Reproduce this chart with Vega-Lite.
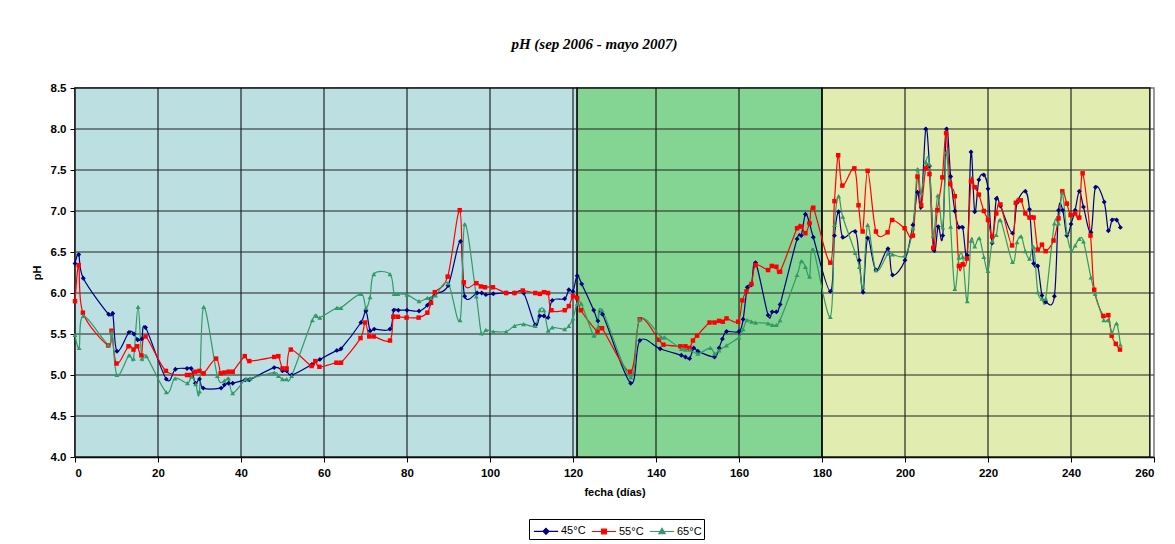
{
  "$schema": "https://vega.github.io/schema/vega-lite/v6.json",
  "width": 1079,
  "height": 369,
  "autosize": {"type": "none"},
  "padding": {"left": 75, "top": 88, "right": 21, "bottom": 87},
  "background": "white",
  "title": {"text": "pH (sep 2006 - mayo 2007)", "font": "Liberation Serif", "fontStyle": "italic", "fontWeight": "bold", "fontSize": 15, "anchor": "middle", "offset": 30, "dx": -20, "color": "black"},
  "config": {
    "view": {"stroke": "#777", "strokeWidth": 1.5},
    "axis": {"grid": false, "labelFont": "Liberation Sans", "labelFontWeight": "bold", "labelFontSize": 11.5, "labelColor": "black", "titleFont": "Liberation Sans", "titleFontWeight": "bold", "titleFontSize": 11, "titleColor": "black", "domainColor": "black", "domainWidth": 1.5, "tickColor": "black", "tickSize": 5}
  },
  "datasets": {
    "regions": [{"a": 0, "b": 121, "r": "r1"}, {"a": 121, "b": 180, "r": "r2"}, {"a": 180, "b": 259, "r": "r3"}],
    "xg": [{"g": 20}, {"g": 40}, {"g": 60}, {"g": 80}, {"g": 100}, {"g": 120}, {"g": 140}, {"g": 160}, {"g": 180}, {"g": 200}, {"g": 220}, {"g": 240}],
    "yg": [{"g": 4.5}, {"g": 5.0}, {"g": 5.5}, {"g": 6.0}, {"g": 6.5}, {"g": 7.0}, {"g": 7.5}, {"g": 8.0}],
    "ph": [
      {"d":0,"pH":6.36,"s":"45°C"},{"d":0.9,"pH":6.47,"s":"45°C"},{"d":2,"pH":6.18,"s":"45°C"},{"d":8.1,"pH":5.74,"s":"45°C"},{"d":9.1,"pH":5.75,"s":"45°C"},{"d":10.1,"pH":5.29,"s":"45°C"},{"d":13,"pH":5.52,"s":"45°C"},{"d":14.2,"pH":5.5,"s":"45°C"},{"d":15.1,"pH":5.43,"s":"45°C"},{"d":16.1,"pH":5.44,"s":"45°C"},{"d":17,"pH":5.58,"s":"45°C"},{"d":22,"pH":4.95,"s":"45°C"},{"d":24.2,"pH":5.07,"s":"45°C"},{"d":27,"pH":5.08,"s":"45°C"},{"d":28,"pH":5.08,"s":"45°C"},{"d":29,"pH":4.9,"s":"45°C"},{"d":30,"pH":4.95,"s":"45°C"},{"d":30.9,"pH":4.84,"s":"45°C"},{"d":35.2,"pH":4.84,"s":"45°C"},{"d":36,"pH":4.88,"s":"45°C"},{"d":37,"pH":4.9,"s":"45°C"},{"d":38,"pH":4.9,"s":"45°C"},{"d":41,"pH":4.94,"s":"45°C"},{"d":42,"pH":4.94,"s":"45°C"},{"d":48,"pH":5.09,"s":"45°C"},{"d":50,"pH":5.05,"s":"45°C"},{"d":51,"pH":5.05,"s":"45°C"},{"d":52.2,"pH":5.0,"s":"45°C"},{"d":57.1,"pH":5.13,"s":"45°C"},{"d":59,"pH":5.19,"s":"45°C"},{"d":63.1,"pH":5.3,"s":"45°C"},{"d":64.1,"pH":5.32,"s":"45°C"},{"d":68.9,"pH":5.64,"s":"45°C"},{"d":70.1,"pH":5.78,"s":"45°C"},{"d":71.1,"pH":5.54,"s":"45°C"},{"d":72.1,"pH":5.56,"s":"45°C"},{"d":75.9,"pH":5.56,"s":"45°C"},{"d":76.8,"pH":5.79,"s":"45°C"},{"d":77.9,"pH":5.79,"s":"45°C"},{"d":80,"pH":5.79,"s":"45°C"},{"d":82.9,"pH":5.78,"s":"45°C"},{"d":84.9,"pH":5.85,"s":"45°C"},{"d":85.8,"pH":5.93,"s":"45°C"},{"d":86.8,"pH":5.99,"s":"45°C"},{"d":89.9,"pH":6.09,"s":"45°C"},{"d":92.9,"pH":6.63,"s":"45°C"},{"d":93.9,"pH":5.96,"s":"45°C"},{"d":96.9,"pH":6.0,"s":"45°C"},{"d":98,"pH":6.0,"s":"45°C"},{"d":99,"pH":5.98,"s":"45°C"},{"d":100.8,"pH":5.99,"s":"45°C"},{"d":103.9,"pH":6.0,"s":"45°C"},{"d":105.9,"pH":6.0,"s":"45°C"},{"d":108.1,"pH":6.0,"s":"45°C"},{"d":110.9,"pH":5.61,"s":"45°C"},{"d":112,"pH":5.72,"s":"45°C"},{"d":113,"pH":5.72,"s":"45°C"},{"d":114,"pH":5.7,"s":"45°C"},{"d":115,"pH":5.91,"s":"45°C"},{"d":118,"pH":5.93,"s":"45°C"},{"d":119,"pH":6.04,"s":"45°C"},{"d":120,"pH":6.02,"s":"45°C"},{"d":121,"pH":6.21,"s":"45°C"},{"d":122.1,"pH":6.11,"s":"45°C"},{"d":125,"pH":5.79,"s":"45°C"},{"d":126,"pH":5.66,"s":"45°C"},{"d":127.1,"pH":5.74,"s":"45°C"},{"d":133.9,"pH":4.9,"s":"45°C"},{"d":136.1,"pH":5.42,"s":"45°C"},{"d":141,"pH":5.32,"s":"45°C"},{"d":146.1,"pH":5.24,"s":"45°C"},{"d":147.1,"pH":5.22,"s":"45°C"},{"d":148.1,"pH":5.2,"s":"45°C"},{"d":149.1,"pH":5.33,"s":"45°C"},{"d":150.1,"pH":5.29,"s":"45°C"},{"d":154.1,"pH":5.22,"s":"45°C"},{"d":155.2,"pH":5.33,"s":"45°C"},{"d":156,"pH":5.44,"s":"45°C"},{"d":157,"pH":5.53,"s":"45°C"},{"d":160,"pH":5.53,"s":"45°C"},{"d":161,"pH":5.68,"s":"45°C"},{"d":162,"pH":6.07,"s":"45°C"},{"d":163,"pH":6.1,"s":"45°C"},{"d":164,"pH":6.37,"s":"45°C"},{"d":167,"pH":5.73,"s":"45°C"},{"d":168,"pH":5.77,"s":"45°C"},{"d":169,"pH":5.77,"s":"45°C"},{"d":169.9,"pH":5.86,"s":"45°C"},{"d":174,"pH":6.66,"s":"45°C"},{"d":175,"pH":6.7,"s":"45°C"},{"d":176,"pH":6.96,"s":"45°C"},{"d":177,"pH":6.85,"s":"45°C"},{"d":177.9,"pH":6.68,"s":"45°C"},{"d":182,"pH":6.02,"s":"45°C"},{"d":183,"pH":6.7,"s":"45°C"},{"d":184,"pH":6.99,"s":"45°C"},{"d":185,"pH":6.68,"s":"45°C"},{"d":188,"pH":6.75,"s":"45°C"},{"d":189,"pH":6.4,"s":"45°C"},{"d":189.9,"pH":6.01,"s":"45°C"},{"d":191,"pH":6.67,"s":"45°C"},{"d":193,"pH":6.28,"s":"45°C"},{"d":195.9,"pH":6.54,"s":"45°C"},{"d":197,"pH":6.22,"s":"45°C"},{"d":200,"pH":6.4,"s":"45°C"},{"d":201.9,"pH":6.83,"s":"45°C"},{"d":203,"pH":7.23,"s":"45°C"},{"d":203.9,"pH":7.05,"s":"45°C"},{"d":205,"pH":8.0,"s":"45°C"},{"d":205.9,"pH":7.55,"s":"45°C"},{"d":207,"pH":6.52,"s":"45°C"},{"d":208,"pH":6.81,"s":"45°C"},{"d":209.1,"pH":6.7,"s":"45°C"},{"d":210,"pH":8.0,"s":"45°C"},{"d":211,"pH":7.42,"s":"45°C"},{"d":212,"pH":7.0,"s":"45°C"},{"d":213,"pH":6.8,"s":"45°C"},{"d":213.9,"pH":6.8,"s":"45°C"},{"d":215,"pH":6.46,"s":"45°C"},{"d":215.9,"pH":7.72,"s":"45°C"},{"d":216.8,"pH":6.99,"s":"45°C"},{"d":217.8,"pH":7.38,"s":"45°C"},{"d":219,"pH":7.44,"s":"45°C"},{"d":220,"pH":7.27,"s":"45°C"},{"d":221,"pH":6.61,"s":"45°C"},{"d":222,"pH":7.15,"s":"45°C"},{"d":223,"pH":7.06,"s":"45°C"},{"d":225.9,"pH":6.73,"s":"45°C"},{"d":227,"pH":7.1,"s":"45°C"},{"d":229,"pH":7.24,"s":"45°C"},{"d":230,"pH":7.02,"s":"45°C"},{"d":231,"pH":6.36,"s":"45°C"},{"d":232,"pH":6.33,"s":"45°C"},{"d":233,"pH":5.97,"s":"45°C"},{"d":233.9,"pH":5.89,"s":"45°C"},{"d":236,"pH":5.96,"s":"45°C"},{"d":237,"pH":7.01,"s":"45°C"},{"d":238,"pH":7.01,"s":"45°C"},{"d":239,"pH":6.7,"s":"45°C"},{"d":240,"pH":6.84,"s":"45°C"},{"d":241,"pH":7.01,"s":"45°C"},{"d":242,"pH":7.24,"s":"45°C"},{"d":243,"pH":7.05,"s":"45°C"},{"d":244.8,"pH":6.74,"s":"45°C"},{"d":245.9,"pH":7.29,"s":"45°C"},{"d":248,"pH":7.11,"s":"45°C"},{"d":249,"pH":6.76,"s":"45°C"},{"d":249.9,"pH":6.89,"s":"45°C"},{"d":251,"pH":6.89,"s":"45°C"},{"d":251.9,"pH":6.8,"s":"45°C"},
      {"d":0,"pH":5.9,"s":"55°C"},{"d":0.9,"pH":6.34,"s":"55°C"},{"d":1.9,"pH":5.76,"s":"55°C"},{"d":8,"pH":5.36,"s":"55°C"},{"d":8.8,"pH":5.54,"s":"55°C"},{"d":10,"pH":5.14,"s":"55°C"},{"d":12.9,"pH":5.35,"s":"55°C"},{"d":14.1,"pH":5.31,"s":"55°C"},{"d":15,"pH":5.35,"s":"55°C"},{"d":16,"pH":5.24,"s":"55°C"},{"d":17,"pH":5.47,"s":"55°C"},{"d":21.9,"pH":5.05,"s":"55°C"},{"d":27,"pH":5.0,"s":"55°C"},{"d":28,"pH":5.0,"s":"55°C"},{"d":29,"pH":5.04,"s":"55°C"},{"d":30,"pH":5.05,"s":"55°C"},{"d":31,"pH":5.02,"s":"55°C"},{"d":34,"pH":5.2,"s":"55°C"},{"d":35.1,"pH":5.02,"s":"55°C"},{"d":36,"pH":5.03,"s":"55°C"},{"d":37,"pH":5.04,"s":"55°C"},{"d":38,"pH":5.04,"s":"55°C"},{"d":40.9,"pH":5.23,"s":"55°C"},{"d":42,"pH":5.17,"s":"55°C"},{"d":48,"pH":5.22,"s":"55°C"},{"d":49,"pH":5.23,"s":"55°C"},{"d":50,"pH":5.08,"s":"55°C"},{"d":51,"pH":5.08,"s":"55°C"},{"d":52,"pH":5.31,"s":"55°C"},{"d":57,"pH":5.11,"s":"55°C"},{"d":57.9,"pH":5.17,"s":"55°C"},{"d":58.9,"pH":5.1,"s":"55°C"},{"d":63,"pH":5.15,"s":"55°C"},{"d":64.1,"pH":5.15,"s":"55°C"},{"d":68.8,"pH":5.45,"s":"55°C"},{"d":69.9,"pH":5.64,"s":"55°C"},{"d":70.9,"pH":5.47,"s":"55°C"},{"d":72,"pH":5.47,"s":"55°C"},{"d":75.9,"pH":5.42,"s":"55°C"},{"d":76.7,"pH":5.71,"s":"55°C"},{"d":77.8,"pH":5.71,"s":"55°C"},{"d":79.9,"pH":5.7,"s":"55°C"},{"d":82.8,"pH":5.7,"s":"55°C"},{"d":84.9,"pH":5.76,"s":"55°C"},{"d":85.8,"pH":5.88,"s":"55°C"},{"d":86.7,"pH":6.01,"s":"55°C"},{"d":89.8,"pH":6.2,"s":"55°C"},{"d":92.7,"pH":7.01,"s":"55°C"},{"d":93.7,"pH":6.13,"s":"55°C"},{"d":96.7,"pH":6.12,"s":"55°C"},{"d":97.8,"pH":6.08,"s":"55°C"},{"d":98.8,"pH":6.07,"s":"55°C"},{"d":100.7,"pH":6.07,"s":"55°C"},{"d":103.9,"pH":6.0,"s":"55°C"},{"d":105.9,"pH":6.0,"s":"55°C"},{"d":107.9,"pH":6.03,"s":"55°C"},{"d":110.9,"pH":6.0,"s":"55°C"},{"d":112,"pH":5.99,"s":"55°C"},{"d":113,"pH":6.01,"s":"55°C"},{"d":114,"pH":6.0,"s":"55°C"},{"d":114.8,"pH":5.79,"s":"55°C"},{"d":118,"pH":5.79,"s":"55°C"},{"d":119,"pH":5.84,"s":"55°C"},{"d":120,"pH":5.96,"s":"55°C"},{"d":121,"pH":5.94,"s":"55°C"},{"d":121.9,"pH":5.79,"s":"55°C"},{"d":125.9,"pH":5.53,"s":"55°C"},{"d":127,"pH":5.57,"s":"55°C"},{"d":133.8,"pH":5.04,"s":"55°C"},{"d":136.1,"pH":5.68,"s":"55°C"},{"d":140.7,"pH":5.43,"s":"55°C"},{"d":141.8,"pH":5.37,"s":"55°C"},{"d":145.9,"pH":5.35,"s":"55°C"},{"d":147.1,"pH":5.35,"s":"55°C"},{"d":148.1,"pH":5.33,"s":"55°C"},{"d":148.9,"pH":5.42,"s":"55°C"},{"d":149.9,"pH":5.48,"s":"55°C"},{"d":152.9,"pH":5.64,"s":"55°C"},{"d":154.1,"pH":5.64,"s":"55°C"},{"d":155.2,"pH":5.66,"s":"55°C"},{"d":156.1,"pH":5.65,"s":"55°C"},{"d":157,"pH":5.69,"s":"55°C"},{"d":159.8,"pH":5.65,"s":"55°C"},{"d":160.8,"pH":5.91,"s":"55°C"},{"d":161.8,"pH":6.02,"s":"55°C"},{"d":163,"pH":6.11,"s":"55°C"},{"d":164,"pH":6.34,"s":"55°C"},{"d":167,"pH":6.28,"s":"55°C"},{"d":167.9,"pH":6.33,"s":"55°C"},{"d":169,"pH":6.32,"s":"55°C"},{"d":169.9,"pH":6.26,"s":"55°C"},{"d":174,"pH":6.79,"s":"55°C"},{"d":175,"pH":6.81,"s":"55°C"},{"d":176,"pH":6.73,"s":"55°C"},{"d":177,"pH":6.85,"s":"55°C"},{"d":177.9,"pH":7.04,"s":"55°C"},{"d":182,"pH":6.37,"s":"55°C"},{"d":183,"pH":7.12,"s":"55°C"},{"d":183.9,"pH":7.68,"s":"55°C"},{"d":184.9,"pH":7.31,"s":"55°C"},{"d":187.8,"pH":7.52,"s":"55°C"},{"d":188.8,"pH":7.07,"s":"55°C"},{"d":189.8,"pH":6.75,"s":"55°C"},{"d":191,"pH":7.49,"s":"55°C"},{"d":193,"pH":6.75,"s":"55°C"},{"d":195.8,"pH":6.74,"s":"55°C"},{"d":196.9,"pH":6.89,"s":"55°C"},{"d":199.9,"pH":6.79,"s":"55°C"},{"d":201.9,"pH":6.7,"s":"55°C"},{"d":203,"pH":7.42,"s":"55°C"},{"d":203.9,"pH":7.07,"s":"55°C"},{"d":205,"pH":7.52,"s":"55°C"},{"d":205.9,"pH":7.45,"s":"55°C"},{"d":206.8,"pH":6.55,"s":"55°C"},{"d":207.8,"pH":7.01,"s":"55°C"},{"d":209,"pH":7.41,"s":"55°C"},{"d":209.9,"pH":7.95,"s":"55°C"},{"d":210.9,"pH":7.33,"s":"55°C"},{"d":212,"pH":7.18,"s":"55°C"},{"d":213,"pH":6.33,"s":"55°C"},{"d":213.9,"pH":6.35,"s":"55°C"},{"d":214.9,"pH":6.42,"s":"55°C"},{"d":215.9,"pH":7.36,"s":"55°C"},{"d":216.8,"pH":7.29,"s":"55°C"},{"d":217.8,"pH":7.2,"s":"55°C"},{"d":219,"pH":7.0,"s":"55°C"},{"d":220,"pH":6.89,"s":"55°C"},{"d":221,"pH":6.69,"s":"55°C"},{"d":222,"pH":6.97,"s":"55°C"},{"d":223,"pH":7.08,"s":"55°C"},{"d":225.8,"pH":6.58,"s":"55°C"},{"d":226.7,"pH":7.1,"s":"55°C"},{"d":227.9,"pH":7.13,"s":"55°C"},{"d":229,"pH":6.97,"s":"55°C"},{"d":230,"pH":6.92,"s":"55°C"},{"d":231,"pH":6.92,"s":"55°C"},{"d":232,"pH":6.53,"s":"55°C"},{"d":233,"pH":6.59,"s":"55°C"},{"d":233.9,"pH":6.51,"s":"55°C"},{"d":235.8,"pH":6.64,"s":"55°C"},{"d":237,"pH":6.91,"s":"55°C"},{"d":237.9,"pH":7.24,"s":"55°C"},{"d":239,"pH":7.09,"s":"55°C"},{"d":239.9,"pH":6.95,"s":"55°C"},{"d":241,"pH":6.97,"s":"55°C"},{"d":242,"pH":6.92,"s":"55°C"},{"d":242.8,"pH":7.46,"s":"55°C"},{"d":244.7,"pH":6.7,"s":"55°C"},{"d":245.6,"pH":6.04,"s":"55°C"},{"d":247.8,"pH":5.72,"s":"55°C"},{"d":249,"pH":5.73,"s":"55°C"},{"d":249.8,"pH":5.48,"s":"55°C"},{"d":250.8,"pH":5.38,"s":"55°C"},{"d":251.8,"pH":5.31,"s":"55°C"},
      {"d":0,"pH":5.49,"s":"65°C"},{"d":1,"pH":5.33,"s":"65°C"},{"d":2,"pH":5.72,"s":"65°C"},{"d":8,"pH":5.37,"s":"65°C"},{"d":8.9,"pH":5.53,"s":"65°C"},{"d":10.1,"pH":5.0,"s":"65°C"},{"d":13,"pH":5.24,"s":"65°C"},{"d":14.1,"pH":5.2,"s":"65°C"},{"d":15.2,"pH":5.83,"s":"65°C"},{"d":16.1,"pH":5.2,"s":"65°C"},{"d":17.2,"pH":5.23,"s":"65°C"},{"d":22,"pH":4.79,"s":"65°C"},{"d":24.1,"pH":4.96,"s":"65°C"},{"d":27.1,"pH":4.9,"s":"65°C"},{"d":28.1,"pH":4.98,"s":"65°C"},{"d":29.1,"pH":4.89,"s":"65°C"},{"d":30,"pH":4.8,"s":"65°C"},{"d":31,"pH":5.83,"s":"65°C"},{"d":34.3,"pH":4.99,"s":"65°C"},{"d":36,"pH":4.93,"s":"65°C"},{"d":37,"pH":4.96,"s":"65°C"},{"d":38,"pH":4.78,"s":"65°C"},{"d":41.1,"pH":4.95,"s":"65°C"},{"d":42.2,"pH":4.96,"s":"65°C"},{"d":48,"pH":5.03,"s":"65°C"},{"d":49,"pH":4.99,"s":"65°C"},{"d":50,"pH":4.95,"s":"65°C"},{"d":51,"pH":4.95,"s":"65°C"},{"d":52.2,"pH":4.99,"s":"65°C"},{"d":57.2,"pH":5.67,"s":"65°C"},{"d":58.2,"pH":5.72,"s":"65°C"},{"d":59,"pH":5.7,"s":"65°C"},{"d":63.1,"pH":5.82,"s":"65°C"},{"d":64.1,"pH":5.82,"s":"65°C"},{"d":68.9,"pH":5.99,"s":"65°C"},{"d":70.1,"pH":5.82,"s":"65°C"},{"d":71.1,"pH":5.95,"s":"65°C"},{"d":72,"pH":6.23,"s":"65°C"},{"d":75.9,"pH":6.23,"s":"65°C"},{"d":76.9,"pH":5.99,"s":"65°C"},{"d":77.8,"pH":5.99,"s":"65°C"},{"d":80,"pH":5.98,"s":"65°C"},{"d":82.9,"pH":5.9,"s":"65°C"},{"d":84.9,"pH":5.94,"s":"65°C"},{"d":85.8,"pH":5.94,"s":"65°C"},{"d":86.9,"pH":5.97,"s":"65°C"},{"d":89.9,"pH":6.12,"s":"65°C"},{"d":92.8,"pH":5.67,"s":"65°C"},{"d":93.9,"pH":6.84,"s":"65°C"},{"d":96.7,"pH":5.96,"s":"65°C"},{"d":97.9,"pH":5.51,"s":"65°C"},{"d":99,"pH":5.55,"s":"65°C"},{"d":100.8,"pH":5.53,"s":"65°C"},{"d":103.9,"pH":5.53,"s":"65°C"},{"d":105.9,"pH":5.6,"s":"65°C"},{"d":108.1,"pH":5.62,"s":"65°C"},{"d":110.9,"pH":5.6,"s":"65°C"},{"d":112,"pH":5.79,"s":"65°C"},{"d":113,"pH":5.79,"s":"65°C"},{"d":114,"pH":5.54,"s":"65°C"},{"d":115,"pH":5.58,"s":"65°C"},{"d":118,"pH":5.56,"s":"65°C"},{"d":119,"pH":5.6,"s":"65°C"},{"d":120,"pH":5.69,"s":"65°C"},{"d":121,"pH":5.87,"s":"65°C"},{"d":122,"pH":5.87,"s":"65°C"},{"d":125,"pH":5.48,"s":"65°C"},{"d":126,"pH":5.58,"s":"65°C"},{"d":127,"pH":5.79,"s":"65°C"},{"d":133.9,"pH":4.97,"s":"65°C"},{"d":136.1,"pH":5.68,"s":"65°C"},{"d":141.3,"pH":5.46,"s":"65°C"},{"d":142.1,"pH":5.46,"s":"65°C"},{"d":146.1,"pH":5.32,"s":"65°C"},{"d":147.1,"pH":5.31,"s":"65°C"},{"d":148.1,"pH":5.31,"s":"65°C"},{"d":150.1,"pH":5.26,"s":"65°C"},{"d":153.1,"pH":5.33,"s":"65°C"},{"d":154.1,"pH":5.26,"s":"65°C"},{"d":155.2,"pH":5.3,"s":"65°C"},{"d":157,"pH":5.36,"s":"65°C"},{"d":160,"pH":5.46,"s":"65°C"},{"d":161,"pH":5.56,"s":"65°C"},{"d":161.9,"pH":5.67,"s":"65°C"},{"d":163,"pH":5.65,"s":"65°C"},{"d":164,"pH":5.64,"s":"65°C"},{"d":167,"pH":5.63,"s":"65°C"},{"d":168,"pH":5.61,"s":"65°C"},{"d":169,"pH":5.61,"s":"65°C"},{"d":169.9,"pH":5.67,"s":"65°C"},{"d":174,"pH":6.22,"s":"65°C"},{"d":175,"pH":6.39,"s":"65°C"},{"d":176,"pH":6.32,"s":"65°C"},{"d":177,"pH":6.2,"s":"65°C"},{"d":177.9,"pH":6.53,"s":"65°C"},{"d":182,"pH":5.71,"s":"65°C"},{"d":183,"pH":6.83,"s":"65°C"},{"d":184,"pH":7.18,"s":"65°C"},{"d":185,"pH":6.93,"s":"65°C"},{"d":188,"pH":6.49,"s":"65°C"},{"d":189,"pH":6.32,"s":"65°C"},{"d":189.9,"pH":6.07,"s":"65°C"},{"d":191,"pH":6.83,"s":"65°C"},{"d":193,"pH":6.28,"s":"65°C"},{"d":195.9,"pH":6.48,"s":"65°C"},{"d":197,"pH":6.47,"s":"65°C"},{"d":200,"pH":6.46,"s":"65°C"},{"d":201.9,"pH":6.79,"s":"65°C"},{"d":203,"pH":7.51,"s":"65°C"},{"d":203.9,"pH":7.22,"s":"65°C"},{"d":205,"pH":7.6,"s":"65°C"},{"d":205.9,"pH":7.57,"s":"65°C"},{"d":206.8,"pH":6.7,"s":"65°C"},{"d":207.9,"pH":7.19,"s":"65°C"},{"d":209.1,"pH":6.8,"s":"65°C"},{"d":210,"pH":7.72,"s":"65°C"},{"d":211,"pH":6.81,"s":"65°C"},{"d":212,"pH":6.05,"s":"65°C"},{"d":213,"pH":6.43,"s":"65°C"},{"d":213.9,"pH":6.44,"s":"65°C"},{"d":215,"pH":5.9,"s":"65°C"},{"d":215.9,"pH":6.64,"s":"65°C"},{"d":216.8,"pH":6.57,"s":"65°C"},{"d":217.9,"pH":6.67,"s":"65°C"},{"d":219,"pH":6.44,"s":"65°C"},{"d":220,"pH":6.27,"s":"65°C"},{"d":221,"pH":6.63,"s":"65°C"},{"d":222,"pH":6.71,"s":"65°C"},{"d":223,"pH":6.89,"s":"65°C"},{"d":225.9,"pH":6.38,"s":"65°C"},{"d":227,"pH":6.62,"s":"65°C"},{"d":228,"pH":6.69,"s":"65°C"},{"d":229,"pH":6.51,"s":"65°C"},{"d":230,"pH":6.42,"s":"65°C"},{"d":231,"pH":6.56,"s":"65°C"},{"d":232,"pH":6.01,"s":"65°C"},{"d":233,"pH":5.93,"s":"65°C"},{"d":233.9,"pH":5.93,"s":"65°C"},{"d":236,"pH":6.85,"s":"65°C"},{"d":237,"pH":6.85,"s":"65°C"},{"d":237.9,"pH":7.22,"s":"65°C"},{"d":239,"pH":6.73,"s":"65°C"},{"d":240,"pH":6.52,"s":"65°C"},{"d":241,"pH":6.58,"s":"65°C"},{"d":242,"pH":6.66,"s":"65°C"},{"d":243,"pH":6.63,"s":"65°C"},{"d":244.8,"pH":6.19,"s":"65°C"},{"d":245.8,"pH":5.99,"s":"65°C"},{"d":247.9,"pH":5.67,"s":"65°C"},{"d":249,"pH":5.67,"s":"65°C"},{"d":249.9,"pH":5.52,"s":"65°C"},{"d":251,"pH":5.63,"s":"65°C"},{"d":251.9,"pH":5.37,"s":"65°C"}
    ]
  },
  "layer": [
    {
      "data": {"name": "regions"},
      "mark": {"type": "rect", "stroke": "#111", "strokeWidth": 1.5},
      "encoding": {
        "x": {"field": "a", "type": "quantitative", "scale": {"domain": [0, 260], "nice": false}, "title": "fecha (días)"},
        "x2": {"field": "b"},
        "fill": {"field": "r", "type": "nominal", "scale": {"domain": ["r1", "r2", "r3"], "range": ["#BCDFE2", "#84D593", "#E1ECB1"]}, "legend": null}
      }
    },
    {
      "data": {"name": "xg"},
      "mark": {"type": "rule", "color": "black", "strokeWidth": 1},
      "encoding": {"x": {"field": "g", "type": "quantitative", "title": "fecha (días)"}}
    },
    {
      "data": {"name": "yg"},
      "mark": {"type": "rule", "color": "#222", "strokeWidth": 1.2},
      "encoding": {"y": {"field": "g", "type": "quantitative", "title": "pH"}}
    },
    {
      "data": {"name": "ph"},
      "mark": {"type": "line", "interpolate": "cardinal", "tension": 0, "strokeWidth": 1.2},
      "encoding": {
        "x": {"field": "d", "type": "quantitative", "title": "fecha (días)", "axis": {"values": [0, 20, 40, 60, 80, 100, 120, 140, 160, 180, 200, 220, 240, 260], "labelPadding": 5, "titlePadding": 8}},
        "y": {"field": "pH", "type": "quantitative", "scale": {"domain": [4, 8.5], "nice": false, "zero": false}, "title": "pH", "axis": {"values": [4, 4.5, 5, 5.5, 6, 6.5, 7, 7.5, 8, 8.5], "format": ".1f", "labelPadding": 4, "titlePadding": 8}},
        "color": {"field": "s", "type": "nominal", "scale": {"domain": ["45°C", "55°C", "65°C"], "range": ["#000080", "#FF0000", "#339966"]},
          "legend": {"title": null, "orient": "none", "legendX": 454, "legendY": 431, "direction": "horizontal", "strokeColor": "black", "padding": 2, "labelFont": "Liberation Sans", "labelFontSize": 11, "labelColor": "black", "symbolSize": 324, "symbolOffset": 5, "columnPadding": 3, "labelOffset": 5, "symbolStrokeWidth": 1.2,
            "encoding": {"symbols": {
              "shape": {"value": {"expr": "datum.value === '45°C' ? 'M-1.35,0H1.35M0,-0.33L0.33,0L0,0.33L-0.33,0Z' : datum.value === '55°C' ? 'M-1.35,0H1.35M-0.26,-0.26H0.26V0.26H-0.26Z' : 'M-1.35,0H1.35M0,-0.35L0.35,0.25H-0.35Z'"}},
              "stroke": {"value": {"expr": "scale('color', datum.value)"}},
              "fill": {"value": {"expr": "scale('color', datum.value)"}},
              "strokeWidth": {"value": 1.2},
              "opacity": {"value": 1}
            }}}
        }
      }
    },
    {
      "data": {"name": "ph"},
      "transform": [{"filter": "datum.s === '45°C'"}],
      "mark": {"type": "point", "shape": "diamond", "filled": true, "opacity": 1, "size": 24},
      "encoding": {
        "x": {"field": "d", "type": "quantitative", "title": "fecha (días)"},
        "y": {"field": "pH", "type": "quantitative", "title": "pH"},
        "color": {"field": "s", "type": "nominal"}
      }
    },
    {
      "data": {"name": "ph"},
      "transform": [{"filter": "datum.s === '55°C'"}],
      "mark": {"type": "point", "shape": "square", "filled": true, "opacity": 1, "size": 20},
      "encoding": {
        "x": {"field": "d", "type": "quantitative", "title": "fecha (días)"},
        "y": {"field": "pH", "type": "quantitative", "title": "pH"},
        "color": {"field": "s", "type": "nominal"}
      }
    },
    {
      "data": {"name": "ph"},
      "transform": [{"filter": "datum.s === '65°C'"}],
      "mark": {"type": "point", "shape": "triangle-up", "filled": true, "opacity": 1, "size": 24},
      "encoding": {
        "x": {"field": "d", "type": "quantitative", "title": "fecha (días)"},
        "y": {"field": "pH", "type": "quantitative", "title": "pH"},
        "color": {"field": "s", "type": "nominal"}
      }
    }
  ]
}
